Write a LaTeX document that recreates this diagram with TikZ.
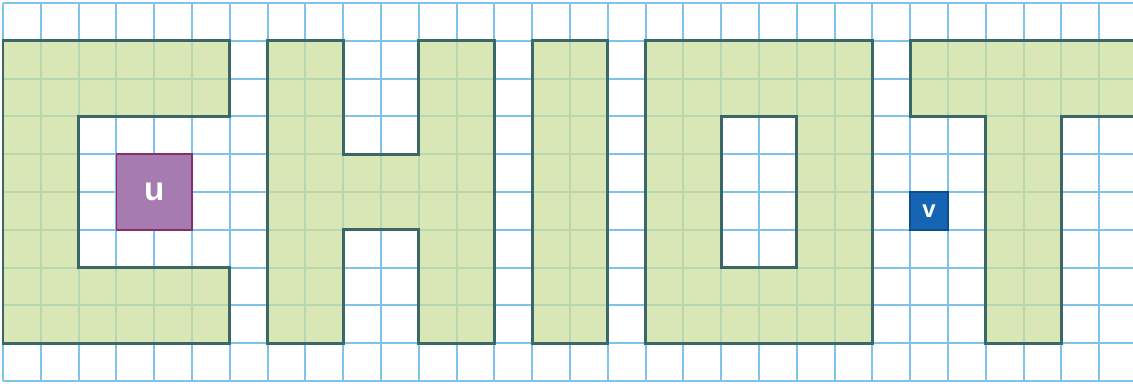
\documentclass[tikz,border=0pt]{standalone}
\usepackage{fontspec}
\setmainfont{Liberation Sans}
\definecolor{gridblue}{HTML}{7FC3EA}
\definecolor{lettergreen}{RGB}{204,222,156}
\definecolor{outlinec}{HTML}{3A6868}
\definecolor{ufill}{HTML}{A57BB0}
\definecolor{uborder}{HTML}{8A2D6E}
\definecolor{vfill}{HTML}{1565B4}
\definecolor{vborder}{HTML}{0F4C8A}
\tikzset{
  gridline/.style={draw=gridblue, line width=1.6pt},
  letter/.style={fill=lettergreen, fill opacity=0.75, draw=outlinec, draw opacity=1, line width=2.1pt, line join=miter},
  ubox/.style={fill=ufill, draw=uborder, line width=1.3pt, text=white, font=\bfseries\fontsize{25}{25}\selectfont, inner sep=0pt, minimum size=2cm},
  vbox/.style={fill=vfill, draw=vborder, line width=1.3pt, text=white, font=\bfseries\fontsize{18}{18}\selectfont, inner sep=0pt, minimum size=1cm}
}
\begin{document}
\begin{tikzpicture}[x=1cm,y=1cm]
\useasboundingbox (-0.079,-0.079) rectangle (29.894,10.079);
\clip (-0.079,-0.079) rectangle (29.894,10.079);
% grid
\foreach \i in {0,...,29} \draw[gridline] (\i,0) -- (\i,10);
\foreach \j in {0,...,10} \draw[gridline] (0,\j) -- (30.5,\j);
% C
\path[letter] (0,9) -- (6,9) -- (6,7) -- (2,7) -- (2,3) -- (6,3) -- (6,1) -- (0,1) -- cycle;
% H
\path[letter] (7,9) -- (9,9) -- (9,6) -- (11,6) -- (11,9) -- (13,9) -- (13,1) -- (11,1) -- (11,4) -- (9,4) -- (9,1) -- (7,1) -- cycle;
% I
\path[letter] (14,9) rectangle (16,1);
% O
\path[letter, even odd rule] (17,9) rectangle (23,1) (19,7) rectangle (21,3);
% T
\path[letter] (24,9) -- (31,9) -- (31,7) -- (28,7) -- (28,1) -- (26,1) -- (26,7) -- (24,7) -- cycle;
% squares
\node[ubox] (u) at (4,5) {u};
\node[vbox] (v) at (24.5,4.5) {v};
\end{tikzpicture}
\end{document}
